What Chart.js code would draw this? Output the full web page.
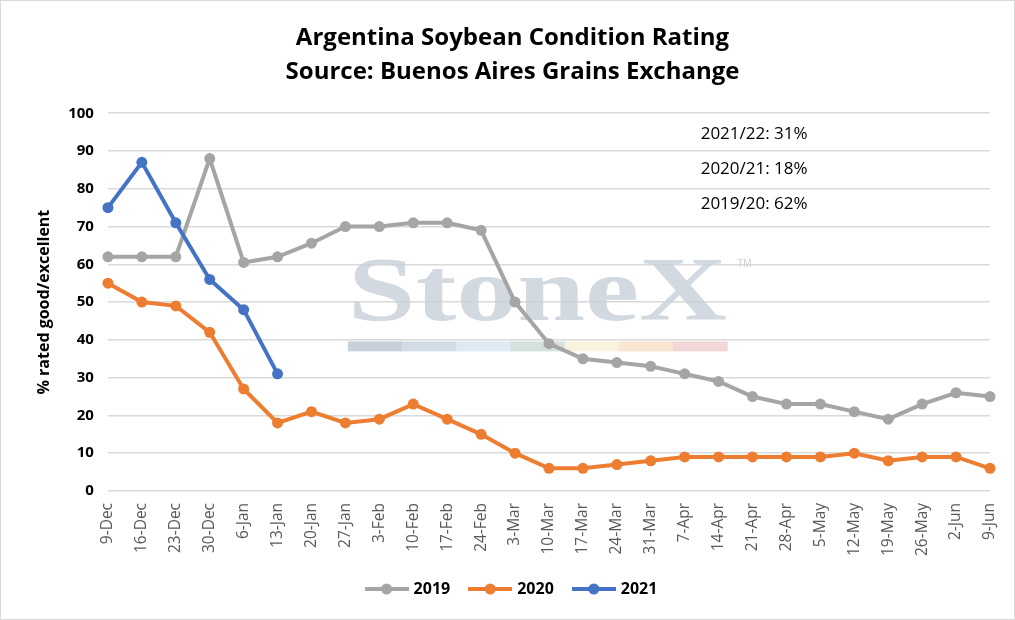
<!DOCTYPE html>
<html>
<head>
<meta charset="utf-8">
<script src="https://cdn.jsdelivr.net/npm/chart.js@4.4.1/dist/chart.umd.min.js"></script>
<style>
  html, body { margin: 0; padding: 0; background: #fff; }
  #wrap { position: relative; width: 1013px; height: 618px; border: 1px solid #d9d9d9; }
</style>
</head>
<body>
<div id="wrap"><canvas id="soyChart"></canvas></div>
<script>
let weeks = ['9-Dec', '16-Dec', '23-Dec', '30-Dec', '6-Jan', '13-Jan', '20-Jan', '27-Jan', '3-Feb',
  '10-Feb', '17-Feb', '24-Feb', '3-Mar', '10-Mar', '17-Mar', '24-Mar', '31-Mar', '7-Apr', '14-Apr',
  '21-Apr', '28-Apr', '5-May', '12-May', '19-May', '26-May', '2-Jun', '9-Jun'];
let rating2019 = [62, 62, 62, 88, 60.5, 62, 65.6, 70, 70, 71, 71, 69, 50, 39, 35, 34, 33, 31, 29,
  25, 23, 23, 21, 19, 23, 26, 25];
let rating2020 = [55, 50, 49, 42, 27, 18, 21, 18, 19, 23, 19, 15, 10, 6, 6, 7, 8, 9, 9,
  9, 9, 9, 10, 8, 9, 9, 6];
let rating2021 = [75, 87, 71, 56, 48, 31];
let seasonNotes = ['2021/22: 31%', '2020/21: 18%', '2019/20: 62%'];
let noteLevels = [94.4, 85.3, 76];

let gray = '#A5A5A5', orange = '#ED7D31', blue = '#4472C4';
let font = '"Open Sans", "DejaVu Sans", sans-serif';

// little line-with-dot swatch for the legend
function swatch(color) {
  let c = document.createElement('canvas');
  c.width = 44; c.height = 12;
  let g = c.getContext('2d');
  g.strokeStyle = color; g.lineWidth = 4;
  g.beginPath(); g.moveTo(0, 6); g.lineTo(44, 6); g.stroke();
  g.fillStyle = color;
  g.beginPath(); g.arc(22, 6, 5.5, 0, Math.PI * 2); g.fill();
  return c;
}

// StoneX watermark + season notes
let extras = {
  id: 'extras',
  beforeDatasetsDraw(chart) {
    let ctx = chart.ctx, a = chart.chartArea, y = chart.scales.y;
    let w = a.right - a.left;
    let left = a.left + w * 0.272;
    let width = w * 0.43;
    ctx.save();
    ctx.font = 'bold 90px "Liberation Serif", "DejaVu Serif", serif';
    ctx.fillStyle = 'rgba(199, 207, 217, 0.8)';
    ctx.textBaseline = 'alphabetic';
    let sx = width / ctx.measureText('StoneX').width;
    ctx.save();
    ctx.translate(left, y.getPixelForValue(45.3));
    ctx.scale(sx, 1);
    ctx.fillText('StoneX', 0, 0);
    ctx.restore();
    ctx.font = '10px "Liberation Sans", sans-serif';
    ctx.fillStyle = 'rgba(200, 205, 212, 0.9)';
    ctx.fillText('TM', left + width + 10, y.getPixelForValue(59.3));
    let bars = ['#c9d0da', '#d2dbe8', '#dde9f3', '#d3e2da', '#f7f3dc', '#f8e6d2', '#f2d6d8'];
    let bw = width / bars.length, top = y.getPixelForValue(39.6);
    bars.forEach((c, i) => {
      ctx.fillStyle = c;
      ctx.fillRect(left + i * bw, top, bw + 0.5, 10);
    });
    ctx.restore();
  },
  afterDraw(chart) {
    let ctx = chart.ctx, a = chart.chartArea;
    ctx.save();
    ctx.font = '17px ' + font;
    ctx.fillStyle = '#000';
    ctx.textBaseline = 'middle';
    seasonNotes.forEach((t, i) => {
      ctx.fillText(t, a.left + (a.right - a.left) * 0.672, chart.scales.y.getPixelForValue(noteLevels[i]));
    });
    ctx.restore();
  }
};

let ctx = document.getElementById('soyChart').getContext('2d');

let chart = new Chart(ctx, {
  type: 'line',
  data: {
    labels: weeks,
    datasets: [
      { label: '2019', data: rating2019, borderColor: gray, backgroundColor: gray, order: 3 },
      { label: '2020', data: rating2020, borderColor: orange, backgroundColor: orange, order: 2 },
      { label: '2021', data: rating2021, borderColor: blue, backgroundColor: blue, order: 1 }
    ]
  },
  options: {
    responsive: true,
    maintainAspectRatio: false,
    animation: false,
    layout: { padding: { left: 34, right: 24, top: 10, bottom: 12 } },
    elements: {
      line: { borderWidth: 4, tension: 0 },
      point: { radius: 5.5, hoverRadius: 6, borderWidth: 0 }
    },
    scales: {
      x: {
        offset: false,
        grid: { display: false },
        border: { display: false },
        ticks: {
          autoSkip: false, minRotation: 90, maxRotation: 90, padding: 4,
          color: '#595959',
          font: { family: font, size: 15.5 }
        }
      },
      y: {
        min: 0, max: 100,
        grid: { color: '#d9d9d9', lineWidth: 1.5, drawTicks: false },
        border: { display: false },
        ticks: {
          stepSize: 10, padding: 14, color: '#000',
          font: { family: font, size: 15, weight: 'bold' }
        },
        title: {
          display: true, text: '% rated good/excellent', color: '#000',
          padding: 0,
          font: { family: font, size: 16, weight: 'bold' }
        }
      }
    },
    plugins: {
      title: {
        display: true,
        text: ['Argentina Soybean Condition Rating', 'Source: Buenos Aires Grains Exchange'],
        color: '#000',
        font: { family: font, size: 24, weight: 'bold', lineHeight: 1.38 },
        padding: { top: 11, bottom: 25 }
      },
      legend: {
        position: 'bottom',
        labels: {
          usePointStyle: true,
          pointStyleWidth: 38,
          color: '#000',
          padding: 21,
          font: { family: font, size: 16, weight: 'bold' },
          generateLabels(ch) {
            return ch.data.datasets.map((d, i) => ({
              text: d.label, datasetIndex: i, pointStyle: swatch(d.borderColor),
              fontColor: '#000', lineWidth: 0, strokeStyle: d.borderColor, fillStyle: d.borderColor
            }));
          }
        }
      },
      tooltip: { enabled: false }
    }
  },
  plugins: [extras]
});
</script>
</body>
</html>
